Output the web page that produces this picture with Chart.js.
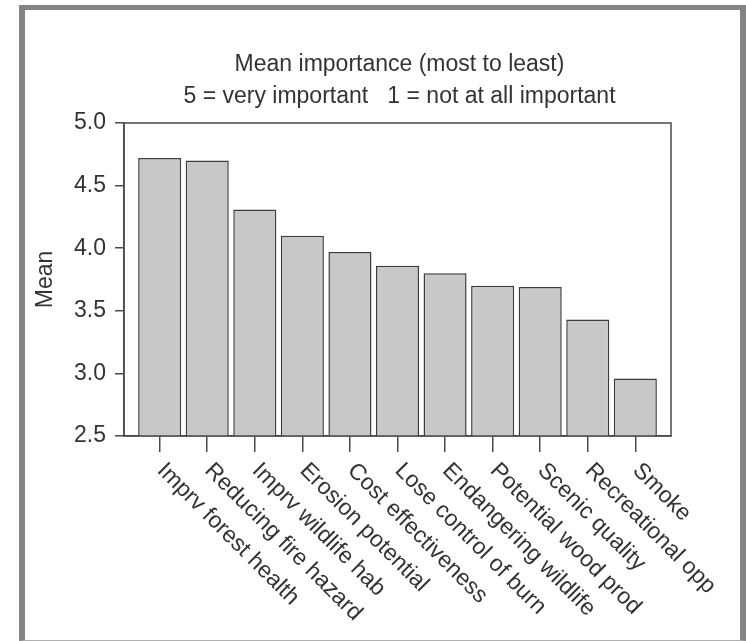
<!DOCTYPE html>
<html>
<head>
<meta charset="utf-8">
<script src="https://cdn.jsdelivr.net/npm/chart.js@4"></script>
<style>
  body { margin: 0; background: #fff; }
  #wrap { position: relative; width: 746px; height: 641px; }
  #frame {
    position: absolute; left: 19px; top: 5px; width: 727px; height: 636px;
    box-sizing: border-box;
    border-left: 6px solid #848484; border-top: 5px solid #848484;
    border-right: 6px solid #848484; border-bottom: 1px solid #b0b0b0;
    pointer-events: none;
  }
</style>
</head>
<body>
<div id="wrap">
  <canvas id="meanChart" width="746" height="641"></canvas>
  <div id="frame"></div>
</div>
<script>
const categories = ["Imprv forest health", "Reducing fire hazard", "Imprv wildlife hab",
    "Erosion potential", "Cost effectiveness", "Lose control of burn", "Endangering wildlife",
    "Potential wood prod", "Scenic quality", "Recreational opp", "Smoke"];
const means = [4.72, 4.70, 4.31, 4.10, 3.97, 3.86, 3.80, 3.70, 3.69, 3.43, 2.96];
const yMin = 2.5;
const yMax = 5.0;
const yStep = 0.5;
const titleText = "Mean importance (most to least)";
const subtitleText = "5 = very important   1 = not at all important";

const ink = "#333333";
const fontFamily = "'Liberation Sans', Arial, sans-serif";
const fontSize = 23;
Chart.defaults.font.family = fontFamily;
Chart.defaults.color = ink;

// box, titles and the slanted category labels
const decorations = {
    id: "decorations",
    afterDraw(chart) {
        const { ctx, chartArea: a, scales } = chart;
        ctx.save();
        ctx.strokeStyle = "#4a4a4a";
        ctx.lineWidth = 1.5;
        ctx.strokeRect(a.left, a.top, a.right - a.left, a.bottom - a.top);

        ctx.fillStyle = ink;
        ctx.font = fontSize + "px " + fontFamily;
        ctx.textAlign = "center";
        ctx.textBaseline = "alphabetic";
        const cx = (a.left + a.right) / 2 + 2;
        ctx.fillText(titleText, cx, 71);
        ctx.fillText(subtitleText, cx, 103);

        ctx.textAlign = "left";
        ctx.textBaseline = "middle";
        categories.forEach((c, i) => {
            const x = scales.x.getPixelForValue(i);
            ctx.save();
            ctx.translate(x + 1, a.bottom + 31);
            ctx.rotate(Math.PI / 4);
            ctx.fillText(c, 0, 0);
            ctx.restore();
        });
        ctx.restore();
    }
};

new Chart(document.getElementById("meanChart"), {
    type: "bar",
    data: {
        datasets: [{
            data: means.map((v, i) => ({ x: i, y: v })),
            backgroundColor: "#c7c8ca",
            borderColor: "#3c3c3c",
            borderWidth: 1.5,
            categoryPercentage: 1,
            barPercentage: 0.905,
        }],
    },
    options: {
        responsive: false,
        animation: false,
        devicePixelRatio: 1,
        layout: { padding: { top: 123, right: 75, bottom: 185, left: 0 } },
        plugins: { legend: { display: false }, tooltip: { enabled: false } },
        scales: {
            x: {
                type: "linear",
                offset: false,
                min: -0.75,
                max: categories.length - 0.25,
                grid: { offset: false, drawOnChartArea: false, tickLength: 16, color: "#4a4a4a", lineWidth: 1.5 },
                border: { color: "#4a4a4a", width: 1.5 },
                ticks: { stepSize: 1, includeBounds: false, autoSkip: false, display: false },
                afterFit: (s) => { s.height = 20; },
            },
            y: {
                min: yMin,
                max: yMax,
                grid: { drawOnChartArea: false, tickLength: 9, color: "#4a4a4a", lineWidth: 1.5 },
                border: { color: "#4a4a4a", width: 1.5 },
                ticks: {
                    stepSize: yStep,
                    padding: 9,
                    font: { size: fontSize },
                    color: ink,
                    callback: (v) => v.toFixed(1),
                },
                title: {
                    display: true,
                    text: "Mean",
                    font: { size: fontSize },
                    color: ink,
                    padding: { top: 32, bottom: 0 },
                },
                afterFit: (s) => { s.width = 124; },
            },
        },
    },
    plugins: [decorations],
});
</script>
</body>
</html>
